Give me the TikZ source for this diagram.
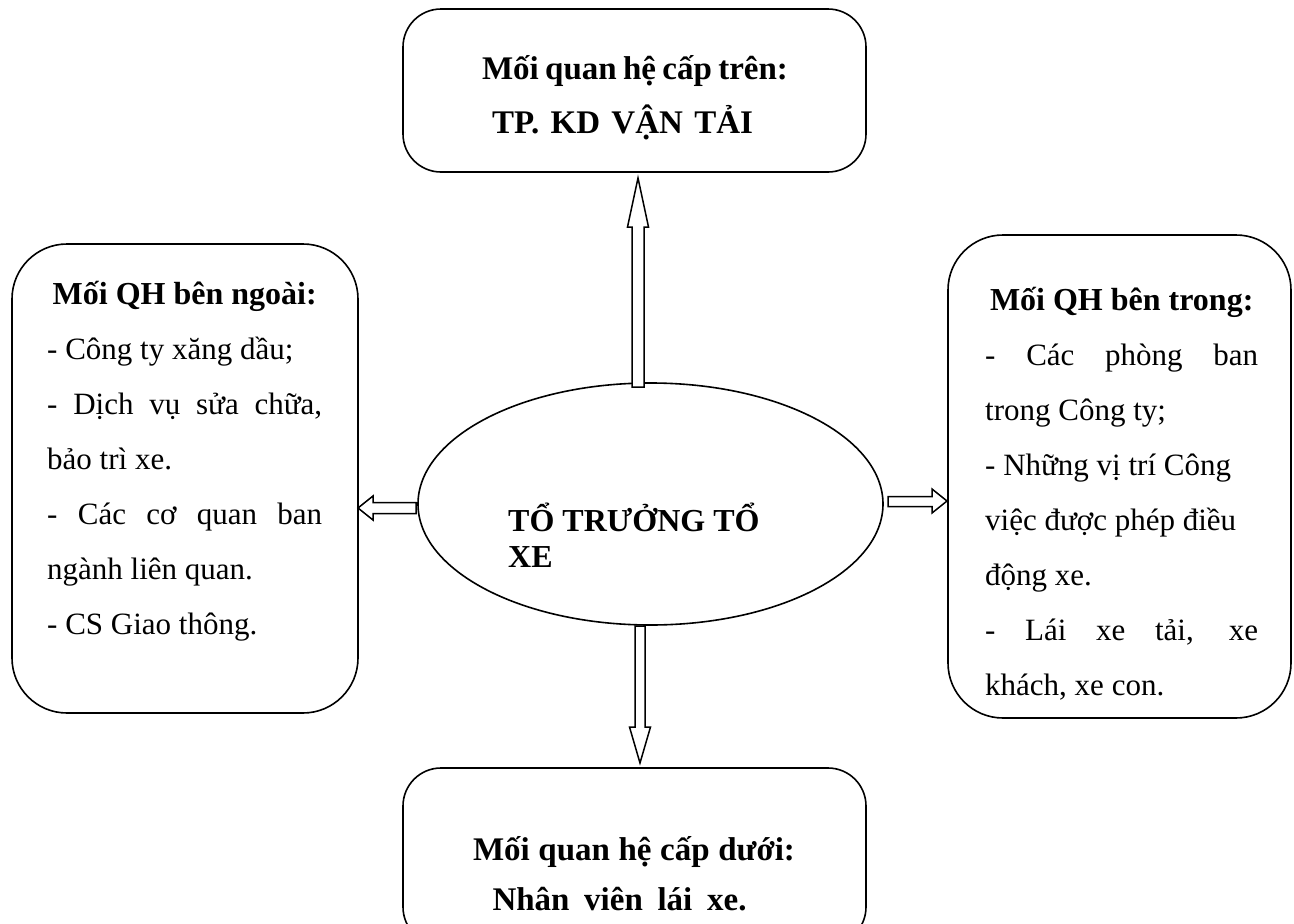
\documentclass[tikz,border=0pt]{standalone}
\usepackage{fontspec}
\setmainfont{Liberation Serif}
\usetikzlibrary{shapes.geometric}
\begin{document}
\begin{tikzpicture}[x=1pt,y=-1pt,
  boxshape/.style={draw, line width=1.6pt, rounded corners=#1, inner sep=0pt},
  blk/.style={draw, line width=1.5pt, fill=white, line join=miter},
  txt/.style={inner sep=0pt, font=\fontsize{31}{55}\selectfont},
  btxt/.style={inner sep=0pt, font=\fontsize{32}{55}\selectfont\bfseries},
  ttxt/.style={inner sep=0pt, font=\fontsize{33}{55}\selectfont\bfseries}]
\useasboundingbox (0,0) rectangle (1294,924);
\fill[white] (0,0) rectangle (1294,924);
\clip (0,0) rectangle (1294,924);

% boxes
\node[boxshape=38pt, minimum width=463pt, minimum height=163pt] (top) at (634.5,90.5) {};
\node[boxshape=38pt, minimum width=463pt, minimum height=177pt] (bottom) at (634.5,856.5) {};
\node[boxshape=55pt, minimum width=346pt, minimum height=469pt] (left) at (185,478.5) {};
\node[boxshape=55pt, minimum width=343pt, minimum height=483pt] (right) at (1119.5,476.5) {};
\node[draw, line width=1.6pt, ellipse, inner sep=0pt, minimum width=465pt, minimum height=242pt] (center) at (650.5,504) {};

% top box text
\node[ttxt, anchor=base] (topA) at (635,79) {\makebox[306pt][s]{Mối quan hệ cấp trên:}};
\node[ttxt, anchor=base] (topB) at (622.5,133) {\makebox[261pt][s]{TP. KD VẬN TẢI}};

% bottom box text
\node[ttxt, anchor=base] (botA) at (634,860) {\makebox[322pt][s]{Mối quan hệ cấp dưới:}};
\node[ttxt, anchor=base] (botB) at (619.5,910) {\makebox[254pt][s]{Nhân viên lái xe.}};

% centre text
\node[btxt, anchor=base west] (cenA) at (508,531) {TỔ TRƯỞNG TỔ};
\node[btxt, anchor=base west] (cenB) at (508,567) {XE};

% left box text
\node[txt, anchor=north west, text width=275pt, align=left] (leftT) at (47,268) {%
\spaceskip=0pt\xspaceskip=0pt
\noindent\rule{0pt}{36pt}\makebox[275pt][c]{\fontsize{32}{55}\selectfont\bfseries Mối QH bên ngoài:}\\
- Công ty xăng dầu;\\
\makebox[275pt][s]{- Dịch vụ sửa chữa,}\\
bảo trì xe.\\
\makebox[275pt][s]{- Các cơ quan ban}\\
ngành liên quan.\\
- CS Giao thông.};

% right box text
\node[txt, anchor=north west, text width=273pt, align=left] (rightT) at (985,274) {%
\spaceskip=0pt\xspaceskip=0pt
\noindent\rule{0pt}{36pt}\makebox[273pt][c]{\fontsize{32}{55}\selectfont\bfseries Mối QH bên trong:}\\
\makebox[273pt][s]{- Các phòng ban}\\
trong Công ty;\\
- Những vị trí Công\\
việc được phép điều\\
động xe.\\
\makebox[273pt][s]{- Lái xe tải, xe}\\
khách, xe con.};

% block arrows
\coordinate (upTip) at (638,178);
\coordinate (downTip) at (640,763);
\coordinate (leftTip) at (358,508);
\coordinate (rightTip) at (947,501);
\draw[blk] (632,387) -- (632,227) -- (627.5,227) -- (upTip) -- (648.5,227) -- (644,227) -- (644,387) -- cycle;
\draw[blk] (635,626) -- (635,727) -- (629.5,727) -- (downTip) -- (650.5,727) -- (645,727) -- (645,626) -- cycle;
\draw[blk] (416,502.5) -- (373,502.5) -- (373,496) -- (leftTip) -- (373,520) -- (373,513.5) -- (416,513.5) -- cycle;
\draw[blk] (888,496.5) -- (932,496.5) -- (932,489) -- (rightTip) -- (932,513) -- (932,506.5) -- (888,506.5) -- cycle;
\end{tikzpicture}
\end{document}
